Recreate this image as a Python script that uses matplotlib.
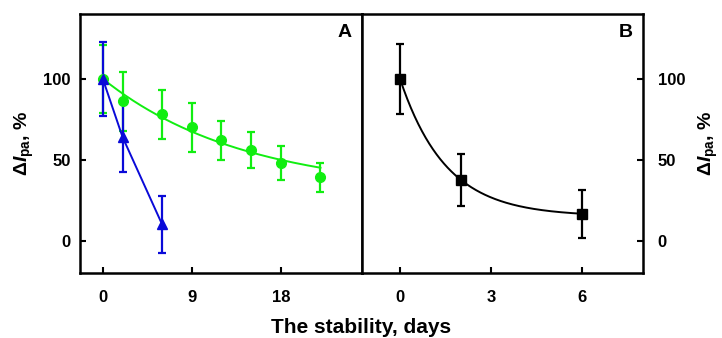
import numpy as np
import matplotlib.pyplot as plt

plt.rcParams['font.family'] = ['Liberation Sans', 'DejaVu Sans']
plt.rcParams['font.weight'] = 'bold'
plt.rcParams['mathtext.fontset'] = 'custom'
plt.rcParams['mathtext.rm'] = 'Liberation Sans:bold'
plt.rcParams['mathtext.it'] = 'Liberation Sans:italic:bold'
plt.rcParams['mathtext.bf'] = 'Liberation Sans:bold'

# panel A, green circles
green_days = [0, 2, 6, 9, 12, 15, 18, 22]
green_vals = [100, 86, 78, 70, 62, 56, 48, 39]
green_err = [21, 18, 15, 15, 12, 11, 10.6, 9]
green_fit = (30, 70, 14.3)   # offset, amplitude, decay (days)

# panel A, blue triangles
blue_days = [0, 2, 6]
blue_vals = [100, 64, 10]
blue_err = [23, 21.5, 17.7]

# panel B, black squares
black_days = [0, 2, 6]
black_vals = [100, 37.5, 16.5]
black_err = [21.7, 16.2, 15]
black_fit = (15, 85, 1.51)

green = '#11ee11'
blue = '#0a0ad8'

fig = plt.figure(figsize=(7.22, 3.38), dpi=100)
axA = fig.add_axes([0.1108, 0.1923, 0.3906, 0.7663])
axB = fig.add_axes([0.5014, 0.1923, 0.3892, 0.7663])

ebkw = dict(elinewidth=1.6, capsize=3, capthick=1.6, linestyle='none')

# panel A
xa = np.linspace(green_days[0], green_days[-1], 200)
axA.plot(xa, green_fit[0] + green_fit[1] * np.exp(-xa / green_fit[2]),
         color=green, lw=1.4)
axA.errorbar(green_days, green_vals, yerr=green_err, color=green,
             marker='o', ms=7, **ebkw)
axA.plot(blue_days, blue_vals, color=blue, lw=1.4)
axA.errorbar(blue_days, blue_vals, yerr=blue_err, color=blue,
             marker='^', ms=7, **ebkw)
axA.set_xlim(-2.3, 26.2)
axA.set_xticks([0, 9, 18])
axA.text(0.965, 0.96, 'A', transform=axA.transAxes, ha='right', va='top',
         fontsize=14, fontweight='bold')

# panel B
xb = np.linspace(black_days[0], black_days[-1], 200)
axB.plot(xb, black_fit[0] + black_fit[1] * np.exp(-xb / black_fit[2]),
         color='black', lw=1.4)
axB.errorbar(black_days, black_vals, yerr=black_err, color='black',
             marker='s', ms=6.5, **ebkw)
axB.set_xlim(-1.25, 8.0)
axB.set_xticks([0, 3, 6])
axB.yaxis.tick_right()
axB.yaxis.set_label_position('right')
axB.text(0.965, 0.96, 'B', transform=axB.transAxes, ha='right', va='top',
         fontsize=14, fontweight='bold')

ylab = 'Δ$\\mathit{I}_{\\mathbf{pa}}$, %'
for ax in (axA, axB):
    ax.set_ylim(-20, 140)
    ax.set_yticks([0, 50, 100])
    ax.tick_params(direction='in', length=4, width=1.5, labelsize=12)
    ax.tick_params(axis='x', pad=12)
    for s in ax.spines.values():
        s.set_linewidth(1.8)
    for lab in ax.get_xticklabels() + ax.get_yticklabels():
        lab.set_fontweight('bold')
    ax.set_ylabel(ylab, fontsize=14, fontweight='bold')

axA.tick_params(axis='y', pad=6.5)
axB.tick_params(axis='y', pad=10.5)
axA.yaxis.set_label_coords(-0.155, 0.5)
axB.yaxis.set_label_coords(1.19, 0.5)
axB.yaxis.label.set_rotation(90)

fig.text(0.5, 0.03, 'The stability, days', ha='center', va='center',
         fontsize=15, fontweight='bold')

fig.savefig('out.png', dpi=100)
